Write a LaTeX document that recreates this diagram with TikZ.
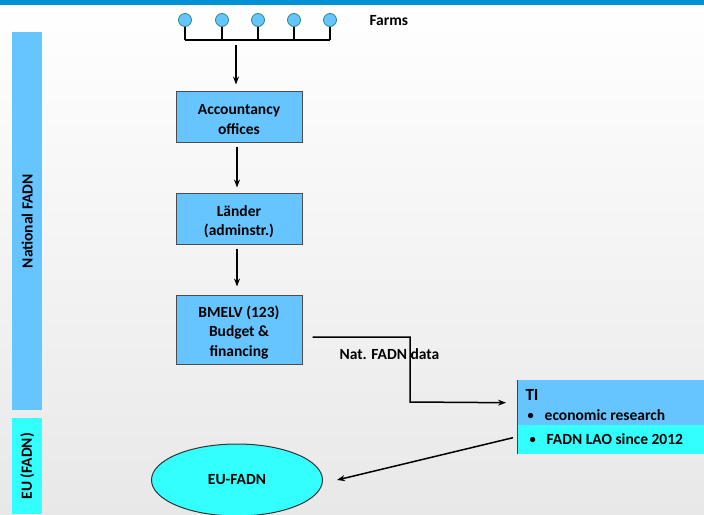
\documentclass[tikz,border=0pt]{standalone}
\usepackage{fontspec}
\setmainfont{Carlito}
\usetikzlibrary{arrows.meta,shapes.geometric,calc}
\definecolor{lblue}{HTML}{66C4FF}
\definecolor{lcyan}{HTML}{33FFFF}
\definecolor{topblue}{HTML}{0090D4}
\definecolor{farmedge}{HTML}{2E8B7A}
\tikzset{
  x=1pt,y=-1pt,
  every node/.style={font=\bfseries\fontsize{15.5}{19.5}\selectfont},
  stepbox/.style={draw=black!70,fill=lblue,minimum width=126pt,minimum height=51pt,inner sep=0pt,line width=1pt},
  boxtext/.style={align=center,inner sep=0pt},
  farm/.style={circle,draw=farmedge,fill=lblue,minimum size=13pt,inner sep=0pt,line width=0.8pt},
  conn/.style={line width=1.5pt,-{Stealth[length=8pt,width=6pt]}},
  plain/.style={line width=1.3pt}
}
\begin{document}
\begin{tikzpicture}
\useasboundingbox (0,0) rectangle (704,514);
\shade[top color=white,bottom color=black!9] (0,0) rectangle (704,514);
\fill[topblue] (0,0) rectangle (704,5);
% side bars
\node[fill=lblue,minimum width=30pt,minimum height=378pt,inner sep=0pt,anchor=north west] (nat) at (12,32) {};
\node[rotate=90] at (nat.center) {National FADN};
\node[fill=lcyan,minimum width=30pt,minimum height=96pt,inner sep=0pt,anchor=north west] (eu) at (12,418) {};
\node[rotate=90] at (eu.center) {EU (FADN)};
% farms
\foreach \i/\x in {1/185,2/222,3/258,4/294,5/330}{
  \node[farm] (f\i) at (\x,20) {};
}
\coordinate (bl) at (185,40);
\coordinate (br) at (330,40);
\foreach \i in {1,...,5}{ \draw[plain] (f\i.south) -- (f\i.south |- bl); }
\draw[plain] (bl) -- (br);
\coordinate (fm) at (236,45);
\node[anchor=west] (farms) at (366,21) {Farms};
% boxes
\node[stepbox] (acc) at (239,116.5) {};
\node[boxtext] at ([yshift=-3pt]acc.center) {Accountancy\\offices};
\node[stepbox] (lan) at (239,218.5) {};
\node[boxtext] at ([yshift=-3pt]lan.center) {Länder\\(adminstr.)};
\node[stepbox,minimum height=69pt] (bm) at (239,329.5) {};
\node[boxtext] at ([yshift=-3pt]bm.center) {BMELV (123)\\Budget \&\\financing};
\draw[conn] (fm) -- ($(acc.north)+(-3,-6)$);
\draw[conn] ($(acc.south)+(-2,4)$) -- ($(lan.north)+(-2,-5)$);
\draw[conn] ($(lan.south)+(-2,4)$) -- ($(bm.north)+(-2,-8)$);
% TI box
\node[fill=lblue,minimum width=187pt,minimum height=45pt,inner sep=0pt,anchor=north west] (ti) at (517,380) {};
\node[fill=lcyan,minimum width=187pt,minimum height=29pt,inner sep=0pt,anchor=north west] (ti2) at (517,425) {};
\draw[farmedge!60!black,line width=1pt] (ti.north west) -- (ti2.south west);
\node[anchor=west,font=\bfseries\fontsize{17}{19}\selectfont] at (522,395) {TI};
\node[anchor=west] at (524,415) {\raisebox{1pt}{\scalebox{0.8}{\textbullet}}\hspace{11pt}economic research};
\node[anchor=west] at (526,439) {\raisebox{1pt}{\scalebox{0.8}{\textbullet}}\hspace{11pt}FADN LAO since 2012};
% connector BMELV -> TI
\draw[conn] ($(bm.east)+(10,7.5)$) -| (410,402) -- ($(ti.west)+(-11,0)$);
\node[anchor=west] (natd) at (336,354) {Nat. FADN data};
% ellipse
\node[ellipse,draw=black!80,fill=lcyan,minimum width=171pt,minimum height=72pt,line width=1pt] (efadn) at (237,480) {EU-FADN};
\draw[conn] ($(ti2.west)+(-4,-2)$) -- ($(efadn.east)+(14,0)$);
\end{tikzpicture}
\end{document}
